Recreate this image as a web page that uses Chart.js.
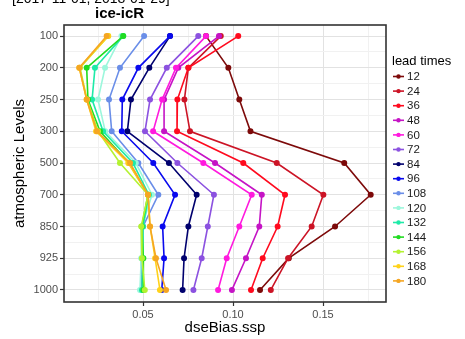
<!DOCTYPE html>
<html lang="en">
<head>
  <meta charset="UTF-8" />
  <title>ice-icR</title>
  <script src="https://cdn.jsdelivr.net/npm/chart.js"></script>
  <style>
    body {
      margin: 0;
      background: #ffffff;
    }
    #wrap {
      width: 465px;
      height: 339px;
    }
  </style>
</head>
<body>
  <div id="wrap"><canvas id="biasChart" width="465" height="339"></canvas></div>

  <script>
    // pressure levels, top to bottom
    const levels = ["100", "200", "250", "300", "500", "700", "850", "925", "1000"];
    const leadTimes = ["12", "24", "36", "48", "60", "72", "84", "96", "108", "120", "132", "144", "156", "168", "180"];
    const xTicks = [0.05, 0.10, 0.15];

    // dseBias.ssp per level for each lead time
    const lt12  = [0.085, 0.0974, 0.1035, 0.1097, 0.1618, 0.1765, 0.1567, 0.131, 0.115];
    const lt24  = [0.0932, 0.0752, 0.073, 0.0761, 0.1243, 0.1502, 0.1437, 0.1306, 0.121];
    const lt36  = [0.1029, 0.0752, 0.0691, 0.0689, 0.1057, 0.1289, 0.1248, 0.1165, 0.110];
    const lt48  = [0.0922, 0.0696, 0.0617, 0.0617, 0.090, 0.116, 0.1146, 0.1072, 0.0994];
    const lt60  = [0.085, 0.0683, 0.0606, 0.0556, 0.0835, 0.1104, 0.1035, 0.0965, 0.0917];
    const lt72  = [0.0807, 0.0632, 0.0539, 0.0511, 0.0691, 0.0894, 0.086, 0.0826, 0.078];
    const lt84  = [0.065, 0.0535, 0.0433, 0.0413, 0.0644, 0.0798, 0.0752, 0.0728, 0.072];
    const lt96  = [0.065, 0.0474, 0.0385, 0.0382, 0.0557, 0.0678, 0.0609, 0.0617, 0.0604];
    const lt108 = [0.0506, 0.0372, 0.0311, 0.0326, 0.0474, 0.0585, 0.050, 0.0493, 0.049];
    const lt120 = [0.038, 0.0289, 0.025, 0.029, 0.046, 0.055, 0.0494, 0.049, 0.0483];
    const lt132 = [0.039, 0.0233, 0.0217, 0.0278, 0.0444, 0.0533, 0.050, 0.050, 0.0494];
    const lt144 = [0.039, 0.0187, 0.0194, 0.0261, 0.0422, 0.0528, 0.0493, 0.0502, 0.0502];
    const lt156 = [0.0306, 0.015, 0.0189, 0.025, 0.0372, 0.0528, 0.049, 0.0494, 0.051];
    const lt168 = [0.0307, 0.0146, 0.0187, 0.0239, 0.0418, 0.0528, 0.0539, 0.0567, 0.0594];
    const lt180 = [0.0298, 0.0146, 0.0187, 0.0244, 0.0428, 0.0528, 0.0539, 0.0572, 0.0628];

    const series = [lt12, lt24, lt36, lt48, lt60, lt72, lt84, lt96, lt108, lt120, lt132, lt144, lt156, lt168, lt180];
    const colors = ["#7d0a0a", "#cc1426", "#ff0a1e", "#c514c5", "#ff1ade", "#8c52e0", "#00006e", "#0a0aee",
                    "#6a8ee8", "#9cf7dc", "#1eeaa8", "#22dc22", "#b4f232", "#ffd21a", "#f5a623"];

    const FONT = "'Liberation Sans', Arial, sans-serif";

    const datasets = series.map((vals, i) => ({
      label: leadTimes[i],
      data: vals.map((v, j) => ({ x: v, y: j })),
      showLine: true,
      borderColor: colors[i],
      backgroundColor: colors[i],
      borderWidth: 1.6,
      pointRadius: 2.2,
      pointHoverRadius: 2.2,
      order: series.length - 1 - i
    }));

    // titles, panel frame and the lead-time key
    const decorations = {
      id: "decorations",
      afterDatasetsDraw(chart) {
        const ctx = chart.ctx;
        const a = chart.chartArea;
        ctx.save();
        ctx.strokeStyle = "#333333";
        ctx.lineWidth = 1.6;
        ctx.strokeRect(a.left, a.top, a.right - a.left, a.bottom - a.top);
        ctx.restore();
      },
      afterDraw(chart) {
        const ctx = chart.ctx;
        const a = chart.chartArea;
        ctx.save();
        ctx.fillStyle = "#000000";
        ctx.textBaseline = "alphabetic";
        ctx.font = "14px " + FONT;
        ctx.textAlign = "left";
        ctx.fillText("[2017-11-01, 2018-01-29]", 12, 3);

        ctx.font = "bold 15px " + FONT;
        ctx.fillText("ice-icR", 95, 18);

        // y axis title
        ctx.save();
        ctx.translate(20, (a.top + a.bottom) / 2);
        ctx.rotate(-Math.PI / 2);
        ctx.textAlign = "center";
        ctx.textBaseline = "middle";
        ctx.font = "15px " + FONT;
        ctx.fillText("atmospheric Levels", 0, 0);
        ctx.restore();

        ctx.font = "13px " + FONT;
        ctx.fillText("lead times", 392, 65);

        ctx.font = "11.5px " + FONT;
        ctx.textBaseline = "middle";
        leadTimes.forEach((lt, i) => {
          const y = 76.5 + i * 14.6;
          ctx.strokeStyle = colors[i];
          ctx.fillStyle = colors[i];
          ctx.lineWidth = 1.6;
          ctx.beginPath();
          ctx.moveTo(393, y);
          ctx.lineTo(404, y);
          ctx.stroke();
          ctx.beginPath();
          ctx.arc(398.5, y, 2.2, 0, Math.PI * 2);
          ctx.fill();
          ctx.fillStyle = "#1a1a1a";
          ctx.fillText(lt, 407, y + 0.5);
        });
        ctx.restore();
      }
    };

    new Chart(document.getElementById("biasChart"), {
      type: "scatter",
      data: { datasets: datasets },
      options: {
        responsive: false,
        animation: false,
        layout: { padding: { top: 25, right: 79, left: 0, bottom: 0 } },
        plugins: {
          legend: { display: false },
          tooltip: { enabled: false }
        },
        scales: {
          x: {
            type: "linear",
            min: 0.0061,
            max: 0.185,
            afterBuildTicks(scale) {
              const t = [];
              for (let v = 0.025; v < 0.185; v += 0.025) t.push({ value: Math.round(v * 1000) / 1000 });
              scale.ticks = t;
            },
            afterFit(scale) { scale.height = 37; },
            ticks: {
              autoSkip: false,
              maxRotation: 0,
              padding: 2,
              color: "#4d4d4d",
              font: { family: FONT, size: 11 },
              callback: v => xTicks.some(t => Math.abs(t - v) < 1e-6) ? v.toFixed(2) : ""
            },
            grid: {
              color: ctx => xTicks.some(t => Math.abs(t - ctx.tick.value) < 1e-6) ? "#e2e2e2" : "#f1f1f1",
              tickColor: ctx => xTicks.some(t => Math.abs(t - ctx.tick.value) < 1e-6) ? "#333333" : "rgba(0,0,0,0)",
              tickLength: 4,
              tickWidth: 1.2
            },
            border: { display: false },
            title: {
              display: true,
              text: "dseBias.ssp",
              color: "#000000",
              font: { family: FONT, size: 15 },
              padding: { top: 0, bottom: 2 }
            }
          },
          y: {
            type: "linear",
            reverse: true,
            min: -0.35,
            max: 8.38,
            afterBuildTicks(scale) {
              const t = [];
              for (let v = 0; v <= 8.01; v += 0.5) t.push({ value: v });
              scale.ticks = t;
            },
            afterFit(scale) { scale.width = 64; },
            ticks: {
              autoSkip: false,
              padding: 2,
              color: "#4d4d4d",
              font: { family: FONT, size: 11 },
              callback: v => Number.isInteger(v) ? levels[v] : ""
            },
            grid: {
              color: ctx => Number.isInteger(ctx.tick.value) ? "#e2e2e2" : "#f1f1f1",
              tickColor: ctx => Number.isInteger(ctx.tick.value) ? "#333333" : "rgba(0,0,0,0)",
              tickLength: 4,
              tickWidth: 1.2
            },
            border: { display: false }
          }
        }
      },
      plugins: [decorations]
    });
  </script>
</body>
</html>
